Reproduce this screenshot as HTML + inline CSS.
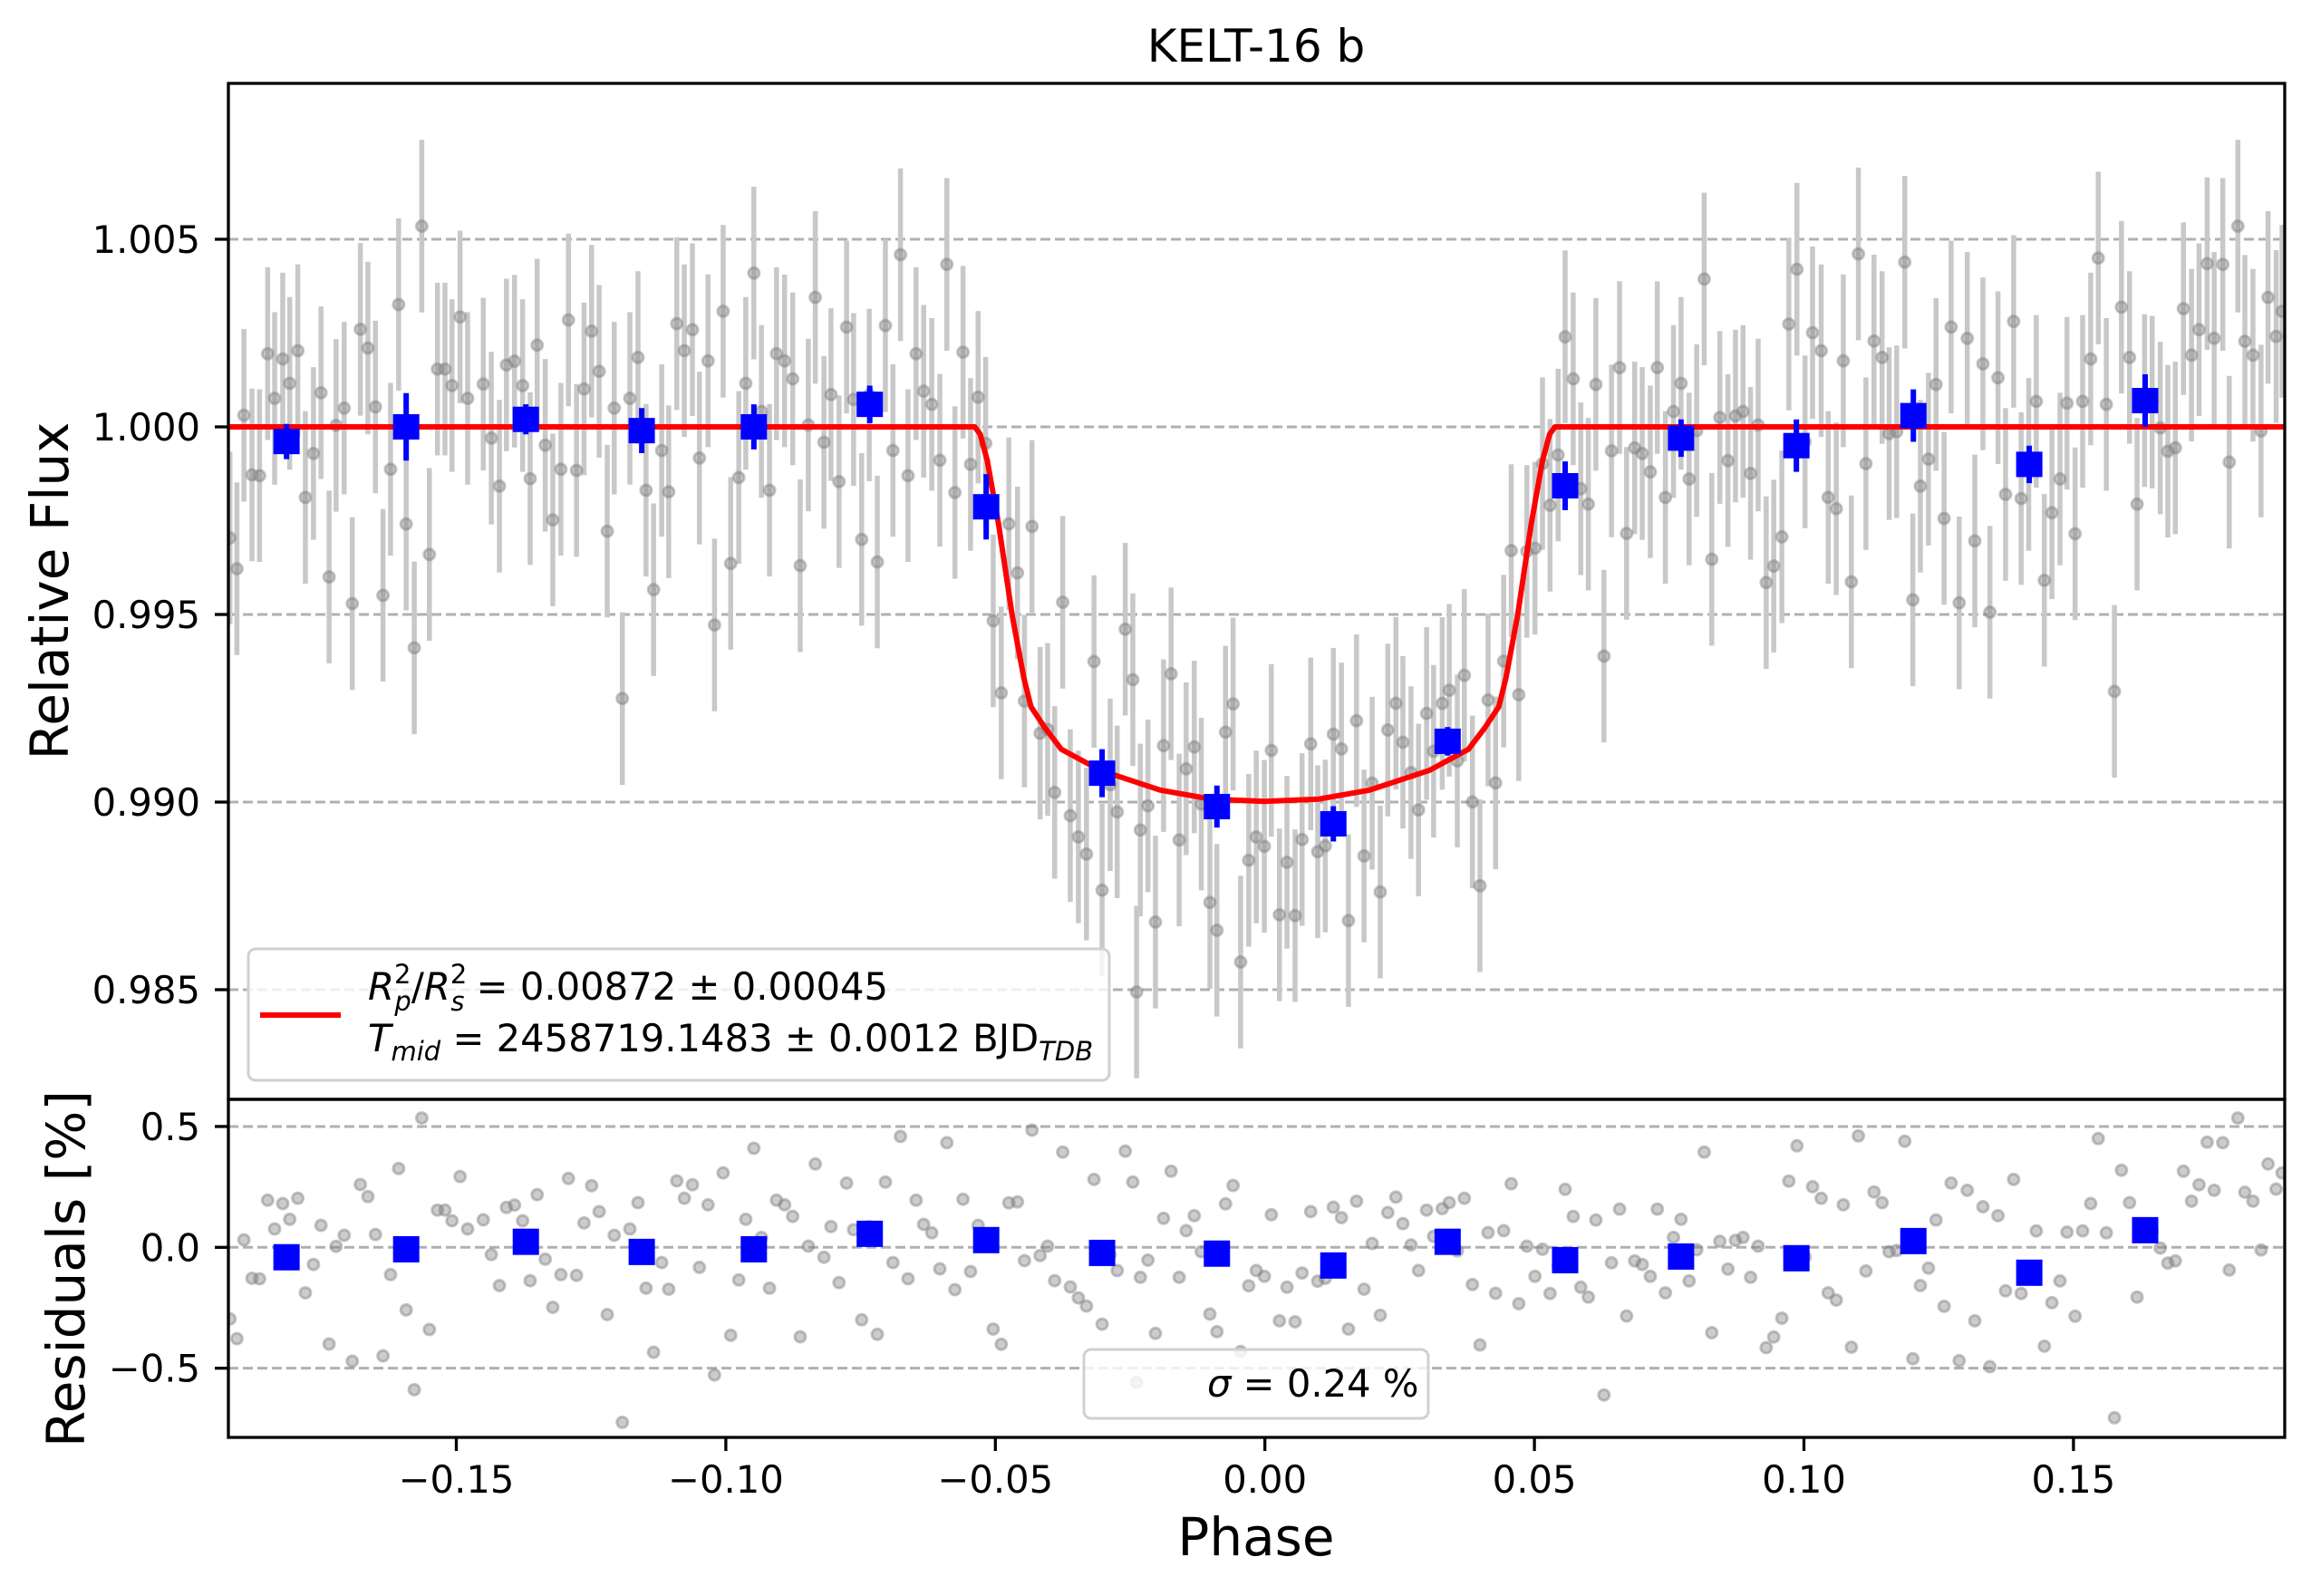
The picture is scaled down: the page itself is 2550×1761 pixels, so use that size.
<!DOCTYPE html>
<html><head><meta charset="utf-8"><title>KELT-16 b</title>
<style>html,body{margin:0;padding:0;background:#fff}svg{display:block}text{font-family:"DejaVu Sans","Liberation Sans",sans-serif;fill:#000}</style>
</head><body>
<svg id="chart" xmlns="http://www.w3.org/2000/svg" width="2550" height="1761" viewBox="0 0 2550 1761">
<defs>
<clipPath id="clipTop"><rect x="252" y="92" width="2269" height="1121"/></clipPath>
<clipPath id="clipBot"><rect x="252" y="1213" width="2269" height="373"/></clipPath>
</defs>
<rect x="0" y="0" width="2550" height="1761" fill="#fff"/>
<text x="1386" y="68" font-size="50" text-anchor="middle">KELT-16 b</text>
<g id="gridTop"></g>
<g id="gridBot"></g>
<g id="errTop" clip-path="url(#clipTop)"></g>
<g id="ptsTop" clip-path="url(#clipTop)"></g>
<g id="modelG" clip-path="url(#clipTop)"></g>
<g id="binTop" clip-path="url(#clipTop)"></g>
<g id="ptsBot" clip-path="url(#clipBot)"></g>
<g id="binBot" clip-path="url(#clipBot)"></g>
<g id="legendTop">
<rect x="274" y="1047" width="950" height="145" rx="8" fill="#fff" fill-opacity="0.8" stroke="#d0d0d0" stroke-width="3"/>
<line x1="287" y1="1120" x2="376" y2="1120" stroke="#ff0000" stroke-width="6"/>
<text x="406" y="1103" font-size="41.7"><tspan font-style="italic">R</tspan><tspan font-size="29" dy="-18">2</tspan><tspan font-size="29" font-style="italic" dx="-18" dy="30">p</tspan><tspan dy="-12">/</tspan><tspan font-style="italic">R</tspan><tspan font-size="29" dy="-18">2</tspan><tspan font-size="29" font-style="italic" dx="-18" dy="30">s</tspan><tspan dy="-12"> = 0.00872 ± 0.00045</tspan></text>
<text x="406" y="1160" font-size="41.7"><tspan font-style="italic">T</tspan><tspan font-size="29" font-style="italic" dy="10">mid</tspan><tspan dy="-10"> = 2458719.1483 ± 0.0012 BJD</tspan><tspan font-size="29" font-style="italic" dy="10">TDB</tspan></text>
</g>
<g id="legendBot">
<rect x="1196" y="1489" width="380" height="76" rx="8" fill="#fff" fill-opacity="0.8" stroke="#d0d0d0" stroke-width="3"/>
<text x="1332" y="1541" font-size="41.7"><tspan font-style="italic">σ</tspan> = 0.24 %</text>
</g>
<rect x="252" y="92" width="2269" height="1121" fill="none" stroke="#000" stroke-width="3.3"/>
<rect x="252" y="1213" width="2269" height="373" fill="none" stroke="#000" stroke-width="3.3"/>
<g id="ticks"></g>
<text transform="translate(75,652) rotate(-90)" font-size="58" text-anchor="middle">Relative Flux</text>
<text transform="translate(93,1400) rotate(-90)" font-size="58" text-anchor="middle">Residuals [%]</text>
<text x="1386" y="1716" font-size="58" text-anchor="middle">Phase</text>
</svg>
<script>
const phase = [-0.1920,-0.1907,-0.1894,-0.1879,-0.1865,-0.1850,-0.1837,-0.1822,-0.1809,-0.1794,-0.1780,-0.1765,-0.1751,-0.1736,-0.1723,-0.1708,-0.1693,-0.1678,-0.1664,-0.1650,-0.1636,-0.1622,-0.1607,-0.1593,-0.1578,-0.1564,-0.1550,-0.1535,-0.1521,-0.1508,-0.1493,-0.1479,-0.1450,-0.1435,-0.1420,-0.1407,-0.1392,-0.1377,-0.1363,-0.1350,-0.1335,-0.1321,-0.1306,-0.1292,-0.1277,-0.1263,-0.1249,-0.1235,-0.1220,-0.1207,-0.1192,-0.1178,-0.1163,-0.1148,
-0.1134,-0.1119,-0.1106,-0.1091,-0.1077,-0.1062,-0.1049,-0.1033,-0.1021,-0.1005,-0.0991,-0.0976,-0.0963,-0.0948,-0.0934,-0.0919,-0.0906,-0.0891,-0.0876,-0.0862,-0.0847,-0.0834,-0.0818,-0.0805,-0.0790,-0.0776,-0.0763,-0.0748,-0.0734,-0.0719,-0.0704,-0.0690,-0.0676,-0.0662,-0.0647,-0.0633,-0.0618,-0.0603,-0.0590,-0.0575,-0.0560,-0.0546,-0.0532,-0.0518,-0.0504,-0.0489,-0.0475,-0.0459,-0.0446,-0.0432,-0.0417,-0.0403,
-0.0390,-0.0375,-0.0361,-0.0346,-0.0331,-0.0317,-0.0302,-0.0287,-0.0274,-0.0259,-0.0245,-0.0238,-0.0231,-0.0217,-0.0203,-0.0188,-0.0174,-0.0159,-0.0146,-0.0131,-0.0118,-0.0102,-0.0089,-0.0073,-0.0059,-0.0045,-0.0030,-0.0016,-0.0001,0.0012,0.0027,0.0041,0.0056,0.0069,0.0085,0.0098,0.0112,0.0127,0.0142,0.0155,0.0170,0.0184,0.0199,0.0214,0.0228,0.0243,0.0256,0.0271,0.0285,0.0300,0.0313,0.0329,0.0342,
0.0357,0.0370,0.0385,0.0399,0.0414,0.0428,0.0443,0.0457,0.0471,0.0486,0.0501,0.0515,0.0529,0.0544,0.0557,0.0572,0.0586,0.0600,0.0614,0.0629,0.0643,0.0658,0.0671,0.0686,0.0700,0.0715,0.0728,0.0743,0.0758,0.0772,0.0787,0.0801,0.0815,0.0829,0.0844,0.0859,0.0873,0.0887,0.0901,0.0915,0.0930,0.0944,0.0959,0.0972,0.0987,0.1002,0.1016,0.1032,0.1045,0.1060,0.1073,0.1088,0.1101,0.1115,
0.1130,0.1145,0.1158,0.1172,0.1187,0.1202,0.1216,0.1231,0.1245,0.1260,0.1273,0.1288,0.1303,0.1317,0.1332,0.1345,0.1360,0.1374,0.1389,0.1403,0.1417,0.1431,0.1446,0.1460,0.1475,0.1488,0.1503,0.1517,0.1532,0.1546,0.1561,0.1576,0.1589,0.1604,0.1618,0.1632,0.1646,0.1661,0.1675,0.1689,0.1704,0.1719,0.1733,0.1748,0.1761,0.1777,0.1789,0.1805,0.1818,0.1833,0.1848,0.1861,0.1876,0.1887];
const residPct = [-0.296,-0.378,0.031,-0.128,-0.130,0.195,0.076,0.181,0.116,0.203,-0.188,-0.071,0.091,-0.400,0.004,0.050,-0.471,0.260,0.210,0.053,-0.449,-0.113,0.326,-0.259,-0.589,0.535,-0.340,0.154,0.154,0.110,0.293,0.076,0.114,-0.030,-0.158,0.165,0.175,0.110,-0.138,0.218,-0.049,-0.248,-0.113,0.285,-0.116,0.101,0.255,0.148,-0.278,0.050,-0.724,0.076,0.185,-0.169,
-0.434,-0.063,-0.173,0.275,0.203,0.259,-0.083,0.176,-0.528,0.308,-0.364,-0.135,0.116,0.410,0.041,-0.169,0.195,0.176,0.128,-0.370,0.005,0.345,-0.041,0.086,-0.146,0.266,0.073,-0.300,0.085,-0.360,0.270,-0.063,0.459,-0.130,0.195,0.095,0.060,-0.089,0.433,-0.175,0.199,-0.100,0.091,0.030,-0.338,-0.401,0.184,0.188,-0.055,0.485,-0.034,0.005,
-0.138,0.394,-0.164,-0.209,-0.243,0.281,-0.318,-0.030,-0.096,0.398,0.270,-0.559,-0.124,-0.053,-0.356,0.120,0.315,-0.124,0.069,0.131,-0.018,-0.276,-0.349,0.180,0.256,-0.431,-0.159,-0.096,-0.120,0.135,-0.304,-0.165,-0.308,-0.106,0.148,-0.140,-0.128,0.166,0.123,-0.338,0.191,-0.173,0.016,-0.281,0.144,0.208,0.098,0.010,-0.096,0.154,0.045,0.160,0.185,
-0.015,0.203,-0.154,-0.404,0.061,-0.190,0.069,0.263,-0.233,0.005,-0.120,-0.008,-0.191,-0.075,0.240,0.128,-0.165,-0.206,0.113,-0.611,-0.064,0.158,-0.284,-0.056,-0.071,-0.120,0.158,-0.188,0.041,0.116,-0.139,-0.010,0.394,-0.353,0.025,-0.090,0.029,0.041,-0.124,0.005,-0.415,-0.371,-0.293,0.274,0.420,-0.040,0.251,0.203,-0.188,-0.218,0.176,-0.413,0.461,-0.098,
0.229,0.185,-0.018,-0.013,0.439,-0.461,-0.158,-0.086,0.113,-0.244,0.266,-0.469,0.236,-0.304,0.168,-0.494,0.131,-0.180,0.281,-0.191,-0.100,0.068,-0.409,-0.229,-0.139,0.063,-0.285,0.068,0.181,0.450,0.060,-0.705,0.319,0.185,-0.206,0.070,0.066,-0.003,-0.065,-0.056,0.315,0.191,0.259,0.435,0.236,0.433,-0.094,0.535,0.228,0.191,-0.011,0.345,0.241,0.308];
const fluxErr = 0.0023;
const modelPhase = [-0.2000,-0.0538,-0.0528,-0.0515,-0.0494,-0.0469,-0.0447,-0.0434,-0.0408,-0.0378,-0.0306,-0.0194,-0.0100,0.0000,0.0100,0.0194,0.0306,0.0378,0.0408,0.0434,0.0447,0.0469,0.0494,0.0515,0.0528,0.0538,0.2000];
const modelFlux = [1.0000,1.0000,0.9998,0.9991,0.9974,0.9950,0.9933,0.99254,0.99198,0.99141,0.99085,0.99032,0.99008,0.99002,0.99008,0.99032,0.99085,0.99141,0.99198,0.99254,0.9933,0.9950,0.9974,0.9991,0.9998,1.0000,1.0000];
const binPhase = [-0.1815,-0.1593,-0.1371,-0.1156,-0.0948,-0.0733,-0.0517,-0.0302,-0.0089,0.0127,0.0339,0.0557,0.0772,0.0986,0.1203,0.1418,0.1633];
const binFlux = [0.99961,1.0000,1.0002,0.9999,1.0000,1.0006,0.99787,0.99077,0.98988,0.98942,0.99162,0.99843,0.9997,0.9995,1.0003,0.9990,1.0007];
const binErr = [0.00047,0.0009,0.0004,0.0006,0.0006,0.0005,0.00087,0.00064,0.00056,0.00047,0.00038,0.00065,0.0005,0.0007,0.0007,0.0005,0.0007];
const binResid = [-0.041,-0.008,0.023,-0.019,-0.008,0.056,0.030,-0.023,-0.026,-0.075,0.023,-0.053,-0.038,-0.045,0.026,-0.105,0.071];
const xTicks = [-0.15,-0.10,-0.05,0.00,0.05,0.10,0.15];
const xTickLabels = ["\u22120.15","\u22120.10","\u22120.05","0.00","0.05","0.10","0.15"];
const fluxTicks = [1.005,1.000,0.995,0.990,0.985];
const fluxTickLabels = ["1.005","1.000","0.995","0.990","0.985"];
const residTicks = [0.5,0.0,-0.5];
const residTickLabels = ["0.5","0.0","\u22120.5"];

const NS = "http://www.w3.org/2000/svg";
const X = p => 1395.7 + p * 5948;
const YF = f => 471 + (1 - f) * 41400;
const YR = r => 1376.3 - r * 266.7;
function mk(tag, attrs, parent) {
  const el = document.createElementNS(NS, tag);
  for (const k in attrs) el.setAttribute(k, attrs[k]);
  parent.appendChild(el);
  return el;
}
function modelAt(p) {
  for (let i = 0; i < modelPhase.length - 1; i++) {
    if (p >= modelPhase[i] && p <= modelPhase[i + 1]) {
      const t = (p - modelPhase[i]) / (modelPhase[i + 1] - modelPhase[i]);
      return modelFlux[i] + t * (modelFlux[i + 1] - modelFlux[i]);
    }
  }
  return 1;
}
const $ = id => document.getElementById(id);
// grids
fluxTicks.forEach(v => {
  const l = mk('line', {x1: 252, x2: 2521, y1: YF(v), y2: YF(v), stroke: '#b0b0b0', 'stroke-width': 3, 'stroke-dasharray': '11 5'}, $('gridTop'));
  
  
});
residTicks.forEach(v => {
  const l = mk('line', {x1: 252, x2: 2521, y1: YR(v), y2: YR(v), stroke: '#b0b0b0', 'stroke-width': 3, 'stroke-dasharray': '11 5'}, $('gridBot'));
  
  
});
// flux points
phase.forEach((p, i) => {
  const f = modelAt(p) + residPct[i] / 100;
  const e = mk('line', {x1: X(p), x2: X(p), y1: YF(f + fluxErr), y2: YF(f - fluxErr), stroke: '#c8c8c8', 'stroke-width': 5.5}, $('errTop'));
  
  
  const c = mk('circle', {cx: X(p), cy: YF(f), r: 6, fill: '#808080', 'fill-opacity': 0.4, stroke: '#808080', 'stroke-opacity': 0.45, 'stroke-width': 3}, $('ptsTop'));
  
  
  const c2 = mk('circle', {cx: X(p), cy: YR(residPct[i]), r: 6, fill: '#808080', 'fill-opacity': 0.4, stroke: '#808080', 'stroke-opacity': 0.45, 'stroke-width': 3}, $('ptsBot'));
  
  
});
// model
const pts = modelPhase.map((p, i) => X(p).toFixed(1) + ',' + YF(modelFlux[i]).toFixed(1)).join(' ');
const ml = mk('polyline', {points: pts, fill: 'none', stroke: '#ff0000', 'stroke-width': 6, 'stroke-linejoin': 'round'}, $('modelG'));


// binned
binPhase.forEach((p, i) => {
  const eb = mk('line', {x1: X(p), x2: X(p), y1: YF(binFlux[i] + binErr[i]), y2: YF(binFlux[i] - binErr[i]), stroke: '#0000ff', 'stroke-width': 6}, $('binTop'));
  
  
  const s = mk('rect', {x: X(p) - 14.5, y: YF(binFlux[i]) - 14, width: 29, height: 28, fill: '#0000ff'}, $('binTop'));
  
  
  const s2 = mk('rect', {x: X(p) - 14.5, y: YR(binResid[i]) - 14.5, width: 29, height: 29, fill: '#0000ff'}, $('binBot'));
  
  
});
// ticks
const tg = $('ticks');
xTicks.forEach((v, i) => {
  const t = mk('line', {x1: X(v), x2: X(v), y1: 1586, y2: 1601, stroke: '#000', 'stroke-width': 3.3}, tg);
  
  
  const tx = mk('text', {x: X(v), y: 1647, 'font-size': 41.7, 'text-anchor': 'middle'}, tg);
  tx.textContent = xTickLabels[i];
  
  
});
fluxTicks.forEach((v, i) => {
  const t = mk('line', {x1: 237, x2: 252, y1: YF(v), y2: YF(v), stroke: '#000', 'stroke-width': 3.3}, tg);
  
  
  const tx = mk('text', {x: 221, y: YF(v) + 15, 'font-size': 41.7, 'text-anchor': 'end'}, tg);
  tx.textContent = fluxTickLabels[i];
  
  
});
residTicks.forEach((v, i) => {
  const t = mk('line', {x1: 237, x2: 252, y1: YR(v), y2: YR(v), stroke: '#000', 'stroke-width': 3.3}, tg);
  
  
  const tx = mk('text', {x: 221, y: YR(v) + 15, 'font-size': 41.7, 'text-anchor': 'end'}, tg);
  tx.textContent = residTickLabels[i];
  
  
});
</script>
</body></html>
